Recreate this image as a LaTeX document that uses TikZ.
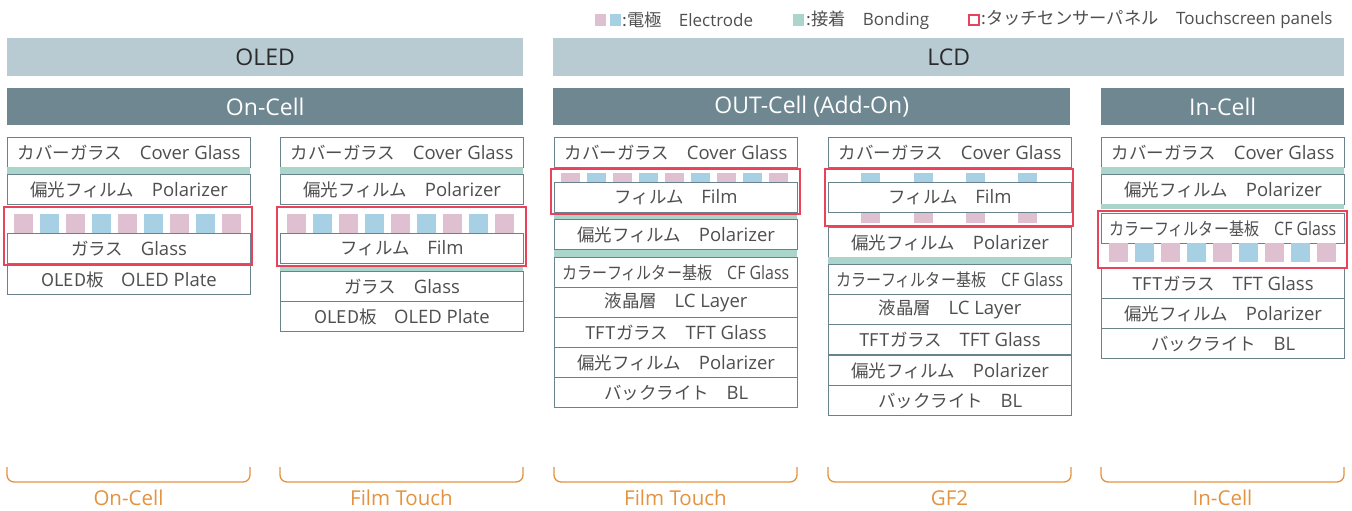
\documentclass[tikz,border=0pt]{standalone}
\usepackage{fontspec}
\usepackage{graphicx}
\setmainfont{Open Sans}
\newfontfamily\jpf{Noto Sans CJK JP}
\definecolor{txt}{HTML}{4F4F4F}
\definecolor{hdrtxt}{HTML}{2A2A2A}
\definecolor{barlight}{HTML}{B8CBD3}
\definecolor{bardark}{HTML}{6E8791}
\definecolor{bord}{HTML}{6A828C}
\definecolor{epink}{HTML}{DEC0D0}
\definecolor{eblue}{HTML}{A7D0E4}
\definecolor{bond}{HTML}{A9D5CB}
\definecolor{tred}{HTML}{E8435B}
\definecolor{brk}{HTML}{E3923F}
\tikzset{
  layer/.style={draw=bord, line width=1.1pt, fill=white, text=txt, inner sep=0pt,
    minimum width=243pt, minimum height=30pt, anchor=north west,
    font=\fontsize{18.5}{20}\selectfont},
  hdrlight/.style={fill=barlight, text=hdrtxt, inner sep=0pt, font=\fontsize{23}{26}\selectfont},
  hdrdark/.style={fill=bardark, text=white, inner sep=0pt, font=\fontsize{23}{26}\selectfont},
  redbox/.style={draw=tred, line width=1.8pt},
  bracketline/.style={draw=brk, line width=1.3pt, rounded corners=7pt},
  bracketlabel/.style={text=brk, font=\fontsize{20.5}{23}\selectfont, inner sep=0pt},
  legendtxt/.style={text=txt, font=\fontsize{17}{19}\selectfont, anchor=west, inner sep=0pt},
}
\newcommand\bondstrip[3]{\fill[bond] (#1,#2) rectangle ++(243,#3);}
% Japanese part + English part of a layer label
\newcommand\jl[2]{{\jpf\fontsize{17.5}{20}\selectfont #1　}#2}
\newcommand\cfl{\scalebox{0.86}[1]{\jl{カラーフィルター基板}{CF Glass}}}
\newcommand\lgj[1]{{\jpf\fontsize{17.3}{19}\selectfont #1　}}
\begin{document}
\begin{tikzpicture}[x=1pt,y=-1pt]
\useasboundingbox (0,0) rectangle (1352,511);

% legend
\fill[epink] (595,14) rectangle (606,26);
\fill[eblue] (610,14) rectangle (621,26);
\node[legendtxt] (lg1) at (622,20) {\lgj{:電極}Electrode};
\fill[bond] (793,14) rectangle (804,26);
\node[legendtxt] (lg2) at (806,20) {\lgj{:接着}Bonding};
\draw[tred, line width=1.5pt] (969,15) rectangle (979,25);
\node[legendtxt] (lg3) at (981,20) {\lgj{:タッチセンサーパネル}Touchscreen panels};

% headers
\node[hdrlight, minimum width=516pt, minimum height=38pt, anchor=north west] (hOLED) at (7,38) {OLED};
\node[hdrlight, minimum width=791pt, minimum height=38pt, anchor=north west] (hLCD) at (553,38) {LCD};
\node[hdrdark, minimum width=516pt, minimum height=37pt, anchor=north west] (hOn) at (7,88) {On-Cell};
\node[hdrdark, minimum width=517pt, minimum height=37pt, anchor=north west] (hOut) at (553,88) {OUT-Cell (Add-On)};
\node[hdrdark, minimum width=243pt, minimum height=37pt, anchor=north west] (hIn) at (1101,88) {In-Cell};

% ---------- column 1: On-Cell ----------
\node[layer] (a1) at (7,137) {\jl{カバーガラス}{Cover Glass}};
\bondstrip{7}{167}{7}
\node[layer] (a2) at (7,174) {\jl{偏光フィルム}{Polarizer}};
\foreach \i in {0,...,8}{
  \pgfmathsetmacro\xx{14+26*\i}
  \ifodd\i \fill[eblue] (\xx,214) rectangle ++(19,19); \else \fill[epink] (\xx,214) rectangle ++(19,19); \fi
}
\node[layer] (a3) at (7,233) {\jl{ガラス}{Glass}};
\node[layer] (a4) at (7,264) {\jl{OLED板}{OLED Plate}};
\draw[redbox] (4,207) rectangle (252,265);

% ---------- column 2: Film Touch (OLED) ----------
\node[layer] (b1) at (280,137) {\jl{カバーガラス}{Cover Glass}};
\bondstrip{280}{167}{7}
\node[layer] (b2) at (280,174) {\jl{偏光フィルム}{Polarizer}};
\foreach \i in {0,...,8}{
  \pgfmathsetmacro\xx{287+26*\i}
  \ifodd\i \fill[eblue] (\xx,214) rectangle ++(19,19); \else \fill[epink] (\xx,214) rectangle ++(19,19); \fi
}
\node[layer] (b3) at (280,233) {\jl{フィルム}{Film}};
\bondstrip{280}{265}{6}
\node[layer] (b4) at (280,271) {\jl{ガラス}{Glass}};
\node[layer] (b5) at (280,301) {\jl{OLED板}{OLED Plate}};
\draw[redbox] (277,207) rectangle (526,266);

% ---------- column 3: Film Touch (LCD) ----------
\node[layer] (c1) at (554,137) {\jl{カバーガラス}{Cover Glass}};
\foreach \i in {0,...,8}{
  \pgfmathsetmacro\xx{561+26*\i}
  \ifodd\i \fill[eblue] (\xx,173) rectangle ++(19,9); \else \fill[epink] (\xx,173) rectangle ++(19,9); \fi
}
\node[layer] (c2) at (554,182) {\jl{フィルム}{Film}};
\bondstrip{554}{214}{5}
\node[layer] (c3) at (554,219) {\jl{偏光フィルム}{Polarizer}};
\bondstrip{554}{250}{7}
\node[layer] (c4) at (554,257) {\cfl};
\node[layer] (c5) at (554,287) {\jl{液晶層}{LC Layer}};
\node[layer] (c6) at (554,317) {\jl{TFTガラス}{TFT Glass}};
\node[layer] (c7) at (554,347) {\jl{偏光フィルム}{Polarizer}};
\node[layer] (c8) at (554,377) {\jl{バックライト}{BL}};
\draw[redbox] (551,169) rectangle (800,214);

% ---------- column 4: GF2 ----------
\node[layer] (d1) at (828,137) {\jl{カバーガラス}{Cover Glass}};
\foreach \xx in {861,914,966,1018}{
  \fill[eblue] (\xx,173) rectangle ++(19,9);
  \fill[epink] (\xx,213) rectangle ++(19,10);
}
\node[layer] (d2) at (828,182) {\jl{フィルム}{Film}};
\node[layer] (d3) at (828,227) {\jl{偏光フィルム}{Polarizer}};
\bondstrip{828}{257}{7}
\node[layer] (d4) at (828,264) {\cfl};
\node[layer] (d5) at (828,294) {\jl{液晶層}{LC Layer}};
\node[layer] (d6) at (828,324) {\jl{TFTガラス}{TFT Glass}};
\node[layer] (d7) at (828,355) {\jl{偏光フィルム}{Polarizer}};
\node[layer] (d8) at (828,385) {\jl{バックライト}{BL}};
\draw[redbox] (825,169) rectangle (1073,226);

% ---------- column 5: In-Cell ----------
\node[layer] (e1) at (1101,137) {\jl{カバーガラス}{Cover Glass}};
\bondstrip{1101}{167}{7}
\node[layer] (e2) at (1101,174) {\jl{偏光フィルム}{Polarizer}};
\bondstrip{1101}{204}{5}
\node[layer] (e3) at (1101,213) {\cfl};
\foreach \i in {0,...,8}{
  \pgfmathsetmacro\xx{1109+26*\i}
  \ifodd\i \fill[eblue] (\xx,243) rectangle ++(19,19); \else \fill[epink] (\xx,243) rectangle ++(19,19); \fi
}
\node[layer] (e4) at (1101,268) {\jl{TFTガラス}{TFT Glass}};
\node[layer] (e5) at (1101,298) {\jl{偏光フィルム}{Polarizer}};
\node[layer] (e6) at (1101,328) {\jl{バックライト}{BL}};
\draw[redbox] (1098,211) rectangle (1347,268);

% ---------- brackets ----------
\foreach \x/\lab/\nm in {7/On-Cell/k1, 280/Film Touch/k2, 554/Film Touch/k3, 828/GF2/k4, 1101/In-Cell/k5}{
  \coordinate (\nm a) at (\x,467);
  \coordinate (\nm b) at (\x+243,467);
  \draw[bracketline] (\nm a) -- ++(0,15) -| (\nm b);
  \node[bracketlabel] (\nm l) at (\x+121.5,498) {\lab};
}
\end{tikzpicture}
\end{document}
